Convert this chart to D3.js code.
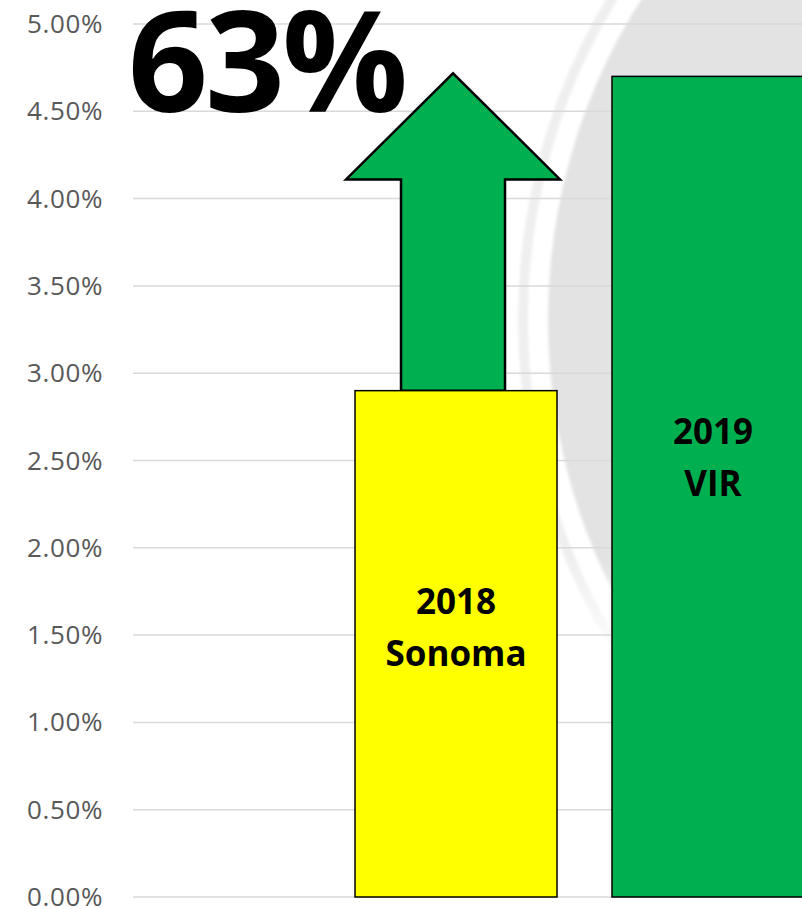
<!DOCTYPE html>
<html>
<head>
<meta charset="utf-8">
<script src="https://cdn.jsdelivr.net/npm/d3@7"></script>
<style>
  body { margin: 0; background: #fff; }
  svg { display: block; }
</style>
</head>
<body>
<script>
// chart data
const categories = ["2018 Sonoma", "2019 VIR"];
const labelLines = [["2018", "Sonoma"], ["2019", "VIR"]];
const values = [0.029, 0.047];
const barColors = ["#ffff00", "#00b050"];
const tickValues = [0, 0.005, 0.01, 0.015, 0.02, 0.025, 0.03, 0.035, 0.04, 0.045, 0.05];
const changeLabel = "63%";

const w = 802, h = 909;
const svg = d3.select("body").append("svg")
  .attr("width", w)
  .attr("height", h);

const yScale = d3.scaleLinear()
  .domain([0, 0.05])
  .range([897, 24]);

const xScale = d3.scaleBand()
  .domain(categories)
  .range([133, 1036])
  .paddingInner(0.214)
  .paddingOuter(0.864);

// faded watermark behind the plot
const defs = svg.append("defs");
const grad = defs.append("linearGradient")
  .attr("id", "fade")
  .attr("gradientUnits", "userSpaceOnUse")
  .attr("x1", 0).attr("y1", 0).attr("x2", 0).attr("y2", h);
grad.append("stop").attr("offset", 560 / h).attr("stop-color", "#fff");
grad.append("stop").attr("offset", 665 / h).attr("stop-color", "#000");
defs.append("mask").attr("id", "wm-mask")
  .append("rect").attr("width", w).attr("height", h).attr("fill", "url(#fade)");
defs.append("filter").attr("id", "soft")
  .append("feGaussianBlur").attr("stdDeviation", 1.5);

const wm = svg.append("g").attr("mask", "url(#wm-mask)").attr("filter", "url(#soft)");
const cx = 1050, cy = 320, rx = 510, ry = 560;
[[22, "#efefef"], [12, "#ffffff"], [-8, "#e3e3e3"]].forEach(([d, c]) => {
  wm.append("ellipse")
    .attr("cx", cx).attr("cy", cy)
    .attr("rx", rx + d).attr("ry", ry + d)
    .attr("fill", c);
});

// gridlines
svg.append("g")
  .selectAll("line")
  .data(tickValues)
  .enter()
  .append("line")
  .attr("x1", 133)
  .attr("x2", w)
  .attr("y1", d => yScale(d))
  .attr("y2", d => yScale(d))
  .attr("stroke", "#d9d9d9")
  .attr("stroke-width", 1.5);

// y axis
const yAxis = d3.axisLeft(yScale)
  .tickValues(tickValues)
  .tickFormat(d3.format(".2%"))
  .tickSize(0)
  .tickPadding(0);
const ya = svg.append("g")
  .attr("transform", "translate(103, 0)")
  .call(yAxis);
ya.select(".domain").remove();
ya.selectAll("text")
  .attr("font-family", "'Open Sans', sans-serif")
  .attr("font-size", 26)
  .attr("letter-spacing", 0.6)
  .attr("fill", "#595959")
  .attr("dy", "0.33em");

// arrow from the first bar up to the second bar's level
const bw = xScale.bandwidth();
const ax = xScale(categories[0]) + bw / 2 - 3;
const base = yScale(values[0]);
const tip = yScale(values[1]) - 3;
const headY = tip + 106;
const arrow = d3.path();
arrow.moveTo(ax - 52, base);
arrow.lineTo(ax - 52, headY);
arrow.lineTo(ax - 107, headY);
arrow.lineTo(ax, tip);
arrow.lineTo(ax + 107, headY);
arrow.lineTo(ax + 52, headY);
arrow.lineTo(ax + 52, base);
arrow.closePath();
svg.append("path")
  .attr("d", arrow.toString())
  .attr("fill", "#00b050")
  .attr("stroke", "#000")
  .attr("stroke-width", 2.5)
  .attr("stroke-linejoin", "miter");

// bars
svg.selectAll(".bar")
  .data(categories)
  .enter()
  .append("rect")
  .attr("class", "bar")
  .attr("x", d => xScale(d))
  .attr("y", (d, i) => yScale(values[i]))
  .attr("width", bw)
  .attr("height", (d, i) => yScale(0) - yScale(values[i]))
  .attr("fill", (d, i) => barColors[i])
  .attr("stroke", "#000")
  .attr("stroke-width", 1.5);

// bar labels
categories.forEach((c, i) => {
  const t = svg.append("text")
    .attr("x", xScale(c) + bw / 2)
    .attr("y", yScale(values[i] * 0.54))
    .attr("text-anchor", "middle")
    .attr("font-family", "'Open Sans', sans-serif")
    .attr("font-weight", "bold")
    .attr("font-size", 35)
    .attr("fill", "#000");
  labelLines[i].forEach((line, j) => {
    t.append("tspan")
      .attr("x", xScale(c) + bw / 2)
      .attr("dy", j == 0 ? -10 : 52)
      .text(line);
  });
});

// big change label
svg.append("text")
  .attr("x", 128)
  .attr("y", 112)
  .attr("font-family", "'Open Sans', sans-serif")
  .attr("font-weight", "bold")
  .attr("font-size", 140)
  .attr("letter-spacing", -3)
  .attr("fill", "#000")
  .text(changeLabel);
</script>
</body>
</html>
